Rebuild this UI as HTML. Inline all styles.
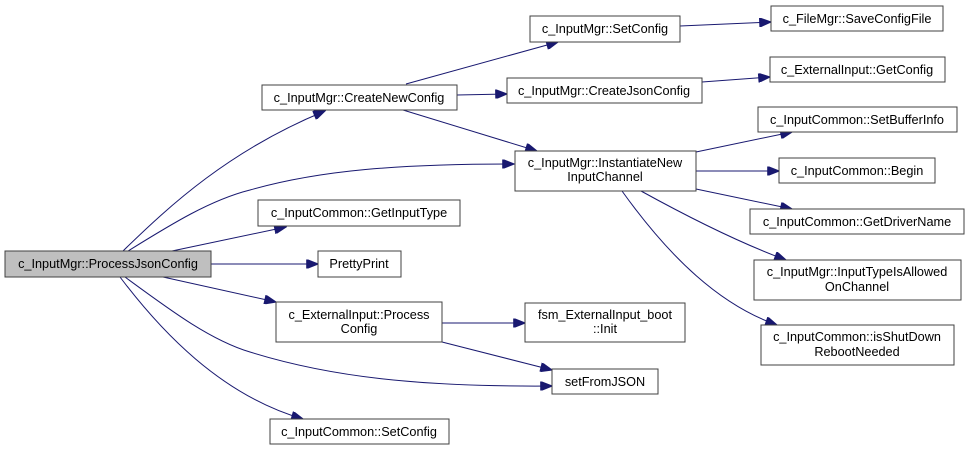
<!DOCTYPE html>
<html><head><meta charset="utf-8"><style>
html,body{margin:0;padding:0;background:#fff;}
svg{display:block;}
text{font-family:"Liberation Sans",Arial,sans-serif;font-size:12.7px;fill:#000;text-anchor:middle;}
rect{fill:#fff;stroke:#404040;stroke-width:1;}
path.e{fill:none;stroke:#191970;stroke-width:1;}
</style></head><body>
<svg width="969" height="451" viewBox="0 0 969 451" xmlns="http://www.w3.org/2000/svg">
<defs>
<marker id="a" viewBox="0 0 10 8" refX="10" refY="4" markerWidth="13" markerHeight="9" markerUnits="userSpaceOnUse" orient="auto">
<path d="M0,0 L10,4 L0,8 z" fill="#191970" stroke="#191970"/>
</marker>
</defs>
<g>
<path class="e" marker-end="url(#a)" d="M123,251 C170,205 230,150 325,111"/>
<path class="e" marker-end="url(#a)" d="M128,251 C170,225 210,200 250,190 C320,170 400,164 514,164"/>
<path class="e" marker-end="url(#a)" d="M172,251 L286,227"/>
<path class="e" marker-end="url(#a)" d="M211,264 L318,264"/>
<path class="e" marker-end="url(#a)" d="M163,277 L276,302"/>
<path class="e" marker-end="url(#a)" d="M125,277 C170,310 210,340 250,352 C330,377 420,387 552,386"/>
<path class="e" marker-end="url(#a)" d="M120,277 C160,330 220,395 303,419"/>
<path class="e" marker-end="url(#a)" d="M406,84 L558,42"/>
<path class="e" marker-end="url(#a)" d="M457,95 L507,94"/>
<path class="e" marker-end="url(#a)" d="M403,110 L537,151"/>
<path class="e" marker-end="url(#a)" d="M680,26 L771,22"/>
<path class="e" marker-end="url(#a)" d="M702,82 L770,77"/>
<path class="e" marker-end="url(#a)" d="M696,152 L792,132"/>
<path class="e" marker-end="url(#a)" d="M696,171 L779,171"/>
<path class="e" marker-end="url(#a)" d="M696,189 L792,209"/>
<path class="e" marker-end="url(#a)" d="M641,191 C690,218 740,243 786,260"/>
<path class="e" marker-end="url(#a)" d="M622,191 C670,258 720,305 777,325"/>
<path class="e" marker-end="url(#a)" d="M442,323 L525,323"/>
<path class="e" marker-end="url(#a)" d="M442,342 L552,370"/>
</g>
<rect x="5" y="251" width="206" height="26" style="fill:#bfbfbf"/><text x="108" y="268">c_InputMgr::ProcessJsonConfig</text>
<rect x="262" y="85" width="195" height="25"/><text x="359" y="102">c_InputMgr::CreateNewConfig</text>
<rect x="258" y="200" width="202" height="26"/><text x="359" y="217">c_InputCommon::GetInputType</text>
<rect x="318" y="251" width="83" height="26"/><text x="359" y="268">PrettyPrint</text>
<rect x="276" y="302" width="166" height="40"/><text x="359" y="319">c_ExternalInput::Process</text><text x="359" y="333">Config</text>
<rect x="270" y="419" width="179" height="25"/><text x="359" y="436">c_InputCommon::SetConfig</text>
<rect x="530" y="16" width="150" height="26"/><text x="605" y="33">c_InputMgr::SetConfig</text>
<rect x="771" y="6" width="172" height="25"/><text x="857" y="23">c_FileMgr::SaveConfigFile</text>
<rect x="770" y="57" width="175" height="25"/><text x="857" y="74">c_ExternalInput::GetConfig</text>
<rect x="507" y="78" width="195" height="25"/><text x="604" y="95">c_InputMgr::CreateJsonConfig</text>
<rect x="758" y="107" width="199" height="25"/><text x="857" y="124">c_InputCommon::SetBufferInfo</text>
<rect x="515" y="151" width="181" height="40"/><text x="605" y="167">c_InputMgr::InstantiateNew</text><text x="605" y="181">InputChannel</text>
<rect x="779" y="158" width="156" height="25"/><text x="857" y="175">c_InputCommon::Begin</text>
<rect x="750" y="209" width="214" height="25"/><text x="857" y="226">c_InputCommon::GetDriverName</text>
<rect x="754" y="260" width="207" height="40"/><text x="857" y="276">c_InputMgr::InputTypeIsAllowed</text><text x="857" y="291">OnChannel</text>
<rect x="761" y="325" width="193" height="40"/><text x="857" y="341">c_InputCommon::isShutDown</text><text x="857" y="356">RebootNeeded</text>
<rect x="525" y="303" width="160" height="39"/><text x="605" y="319">fsm_ExternalInput_boot</text><text x="605" y="333">::Init</text>
<rect x="552" y="369" width="106" height="25"/><text x="605" y="386">setFromJSON</text>
</svg>
</body></html>
